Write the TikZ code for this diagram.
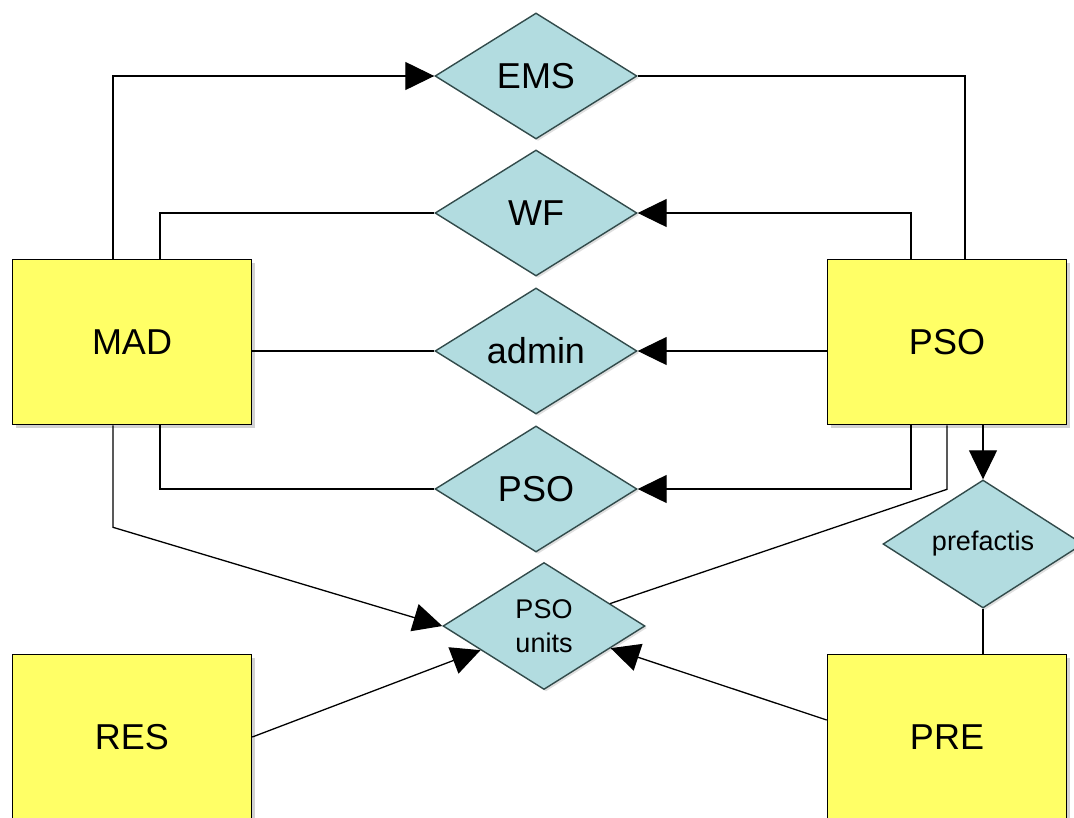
\documentclass[tikz,border=0pt]{standalone}
\usepackage{fontspec}
\setmainfont{Liberation Sans}
\usetikzlibrary{shapes.geometric, arrows.meta, shadows}
\definecolor{boxyellow}{RGB}{255,255,102}
\definecolor{relblue}{RGB}{178,220,224}
\definecolor{relline}{RGB}{50,75,75}
\tikzset{
  box/.style={draw, line width=1.6pt, fill=boxyellow, minimum width=239pt, minimum height=165pt,
    font=\fontsize{36}{40}\selectfont, drop shadow={shadow xshift=3pt, shadow yshift=-3pt, opacity=0.35}},
  rel/.style={diamond, draw=relline, line width=1.4pt, fill=relblue, inner sep=0pt, minimum width=202pt,
    minimum height=126pt, font=\fontsize{36}{40}\selectfont, drop shadow={shadow xshift=2pt, shadow yshift=-2pt, opacity=0.25}},
  arr/.style={-{Triangle[length=29pt,width=28pt]}},
}
\begin{document}
\begin{tikzpicture}[x=1pt, y=-1pt, line width=1.3pt]
    \clip (0,0) rectangle (1074,817);
    \fill[white] (0,0) rectangle (1074,817);
    \node[box] (mad) at (132,342) {MAD};
    \node[box] (pso) at (947,342) {PSO};
    \node[box] (res) at (132,737) {RES};
    \node[box] (pre) at (947,737) {PRE};
    \node[rel] (ems) at (536,76) {EMS};
    \node[rel] (wf) at (536,213) {WF};
    \node[rel] (admin) at (536,351) {admin};
    \node[rel] (psorel) at (536,489) {PSO};
    \node[rel, minimum height=127pt, align=center, font=\fontsize{27}{34}\selectfont] (units) at (544,626) {PSO\\units};
    \node[rel, minimum width=200pt, minimum height=128pt, font=\fontsize{27}{32}\selectfont] (prefactis) at (983,544) {prefactis};
    \draw[arr] ([xshift=-19pt]mad.north) |- (ems.west);
    \draw (ems.east) -| ([xshift=18pt]pso.north);
    \draw ([xshift=28pt]mad.north) |- (wf.west);
    \draw[arr] ([xshift=-36pt]pso.north) |- (wf.east);
    \draw (mad.east |- admin.west) -- (admin.west);
    \draw[arr] (pso.west |- admin.east) -- (admin.east);
    \draw ([xshift=28pt]mad.south) |- (psorel.west);
    \draw[arr] ([xshift=-36pt]pso.south) |- (psorel.east);
    \draw[arr] ([xshift=-19pt]mad.south) -- ++(0,102) -- (units.west);
    \draw (pso.south) -- ++(0,64) -- (units);
    \draw[arr] ([xshift=36pt]pso.south) -- (prefactis.north);
    \draw (prefactis.south) -- (prefactis.south |- pre.north);
    \draw[arr] (res.east) -- (units);
    \draw[arr] ([yshift=17pt]pre.west) -- (units);
\end{tikzpicture}
\end{document}
